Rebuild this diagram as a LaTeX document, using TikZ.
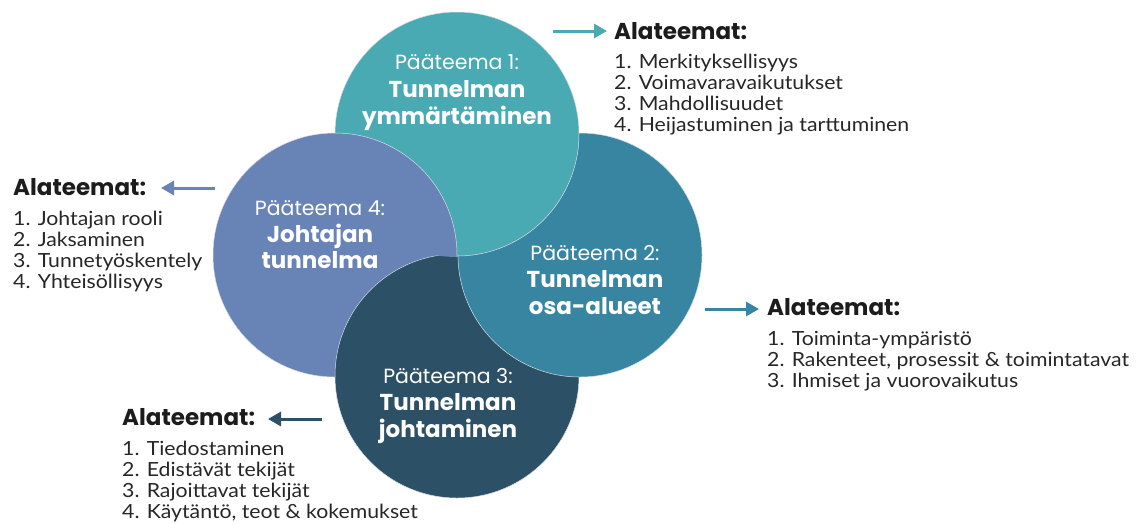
\documentclass[tikz,border=0pt]{standalone}
\usepackage{fontspec}
\setmainfont{Lato}
\newfontfamily\listfont[FakeStretch=1.09]{Lato}
\newfontfamily\popfont{Poppins}
\usetikzlibrary{arrows.meta}
\definecolor{cTeal}{HTML}{4AAAB4}
\definecolor{cBlue}{HTML}{3785A1}
\definecolor{cDark}{HTML}{2C5066}
\definecolor{cPurple}{HTML}{6883B5}
\definecolor{cText}{HTML}{262626}
\definecolor{cHead}{HTML}{1C1C1C}
\definecolor{cEdge}{HTML}{D8DDE2}
\begin{document}
\begin{tikzpicture}[x=1pt,y=-1pt,
  bubble/.style={circle,minimum size=244pt,inner sep=0pt,draw=cEdge,line width=0.5pt},
  ptitle/.style={anchor=base,inner sep=0pt,text=white,font=\popfont\fontsize{20.5}{24}\selectfont},
  pbold/.style={anchor=base,inner sep=0pt,text=white,font=\popfont\bfseries\fontsize{23}{24}\selectfont},
  head/.style={anchor=base west,inner sep=0pt,text=cHead,font=\popfont\bfseries\fontsize{23}{24}\selectfont},
  item/.style={anchor=base west,inner sep=0pt,text=cText,font=\listfont\fontsize{19.5}{21}\selectfont},
  arr/.style={line width=3pt,-{Triangle[length=13pt,width=14pt]}}
]
\useasboundingbox (0,0) rectangle (1140,523);
% circles (cyclic overlap: purple, dark, blue, teal, then purple over teal)
\node[bubble,fill=cPurple] (c4) at (335,255) {};
\node[bubble,fill=cDark] (c3) at (457,376) {};
\node[bubble,fill=cBlue] (c2) at (580,255) {};
\node[bubble,fill=cTeal] (c1) at (457,134) {};
\begin{scope}
  \clip (457,134) circle (123);
  \fill[cPurple,draw=cEdge,line width=0.5pt] (335,255) circle (122);
\end{scope}
% circle texts
\node[ptitle] (t1a) at (457,69) {Pääteema 1:};
\node[pbold] (t1b) at (457,97) {Tunnelman};
\node[pbold] (t1c) at (457,124) {ymmärtäminen};
\node[ptitle] (t2a) at (595,260) {Pääteema 2:};
\node[pbold] (t2b) at (595,287) {Tunnelman};
\node[pbold] (t2c) at (595,314) {osa-alueet};
\node[ptitle] (t3a) at (448,383) {Pääteema 3:};
\node[pbold] (t3b) at (448,410) {Tunnelman};
\node[pbold] (t3c) at (448,437) {johtaminen};
\node[ptitle] (t4a) at (320,215) {Pääteema 4:};
\node[pbold] (t4b) at (320,242) {Johtajan};
\node[pbold] (t4c) at (320,268) {tunnelma};
% headings
\node[head] (h1) at (614,39) {Alateemat:};
\node[head] (h2) at (767,315) {Alateemat:};
\node[head] (h3) at (122,425) {Alateemat:};
\node[head] (h4) at (13,195) {Alateemat:};
% arrows
\coordinate (a1s) at (553,31); \coordinate (a1e) at (607,31);
\coordinate (a2s) at (705,309); \coordinate (a2e) at (759,309);
\coordinate (a3s) at (322,419); \coordinate (a3e) at (268,419);
\coordinate (a4s) at (215,188); \coordinate (a4e) at (161,188);
\draw[arr,cTeal] (a1s) -- (a1e);
\draw[arr,cBlue] (a2s) -- (a2e);
\draw[arr,cDark] (a3s) -- (a3e);
\draw[arr,cPurple] (a4s) -- (a4e);
% lists
\foreach \t [count=\i] in {1. Merkityksellisyys,2. Voimavaravaikutukset,3. Mahdollisuudet,4. Heijastuminen ja tarttuminen}
  \node[item] (l1-\i) at (614,{68+21*(\i-1)}) {\t};
\foreach \t [count=\i] in {1. Toiminta-ympäristö,{2. Rakenteet, prosessit \& toimintatavat},3. Ihmiset ja vuorovaikutus}
  \node[item] (l2-\i) at (767,{345+21*(\i-1)}) {\t};
\foreach \t [count=\i] in {1. Tiedostaminen,2. Edistävät tekijät,3. Rajoittavat tekijät,{4. Käytäntö, teot \& kokemukset}}
  \node[item] (l3-\i) at (122,{455+21*(\i-1)}) {\t};
\foreach \t [count=\i] in {1. Johtajan rooli,2. Jaksaminen,3. Tunnetyöskentely,4. Yhteisöllisyys}
  \node[item] (l4-\i) at (13,{225+21*(\i-1)}) {\t};
\end{tikzpicture}
\end{document}
